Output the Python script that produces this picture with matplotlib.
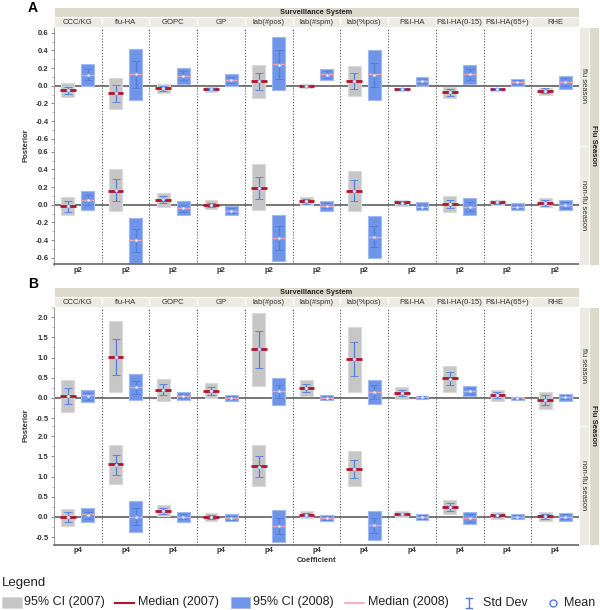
import matplotlib
matplotlib.use('Agg')
import matplotlib.pyplot as plt
from matplotlib.patches import Rectangle
from matplotlib.ticker import MultipleLocator, AutoMinorLocator

plt.rcParams['font.family'] = ['Liberation Sans', 'DejaVu Sans']

# ---------------- data ----------------
systems = ['CCC/KG', 'flu-HA', 'GOPC', 'GP', 'lab(#pos)', 'lab(#spm)', 'lab(%pos)',
           'P&I-HA', 'P&I-HA(0-15)', 'P&I-HA(65+)', 'RHE']
seasons = ['flu season', 'non-flu season']

# Panel A (p2), flu season
A_flu_lo07 = [-0.13, -0.26, -0.08, -0.065, -0.14, -0.03, -0.12, -0.06, -0.14, -0.06, -0.10]
A_flu_hi07 = [0.03, 0.09, 0.02, -0.01, 0.24, 0.02, 0.22, -0.02, -0.01, -0.02, -0.02]
A_flu_med07 = [-0.05, -0.08, -0.03, -0.035, 0.05, 0.0, 0.05, -0.04, -0.07, -0.04, -0.055]
A_flu_mean07 = [-0.05, -0.085, -0.03, -0.035, 0.05, 0.0, 0.05, -0.04, -0.072, -0.04, -0.055]
A_flu_sd07 = [0.04, 0.095, 0.025, 0.015, 0.10, 0.012, 0.09, 0.012, 0.038, 0.012, 0.025]
A_flu_lo08 = [0.0, -0.16, 0.02, 0.0, -0.05, 0.06, -0.16, 0.0, 0.02, 0.0, -0.035]
A_flu_hi08 = [0.25, 0.42, 0.20, 0.13, 0.55, 0.19, 0.40, 0.10, 0.24, 0.08, 0.11]
A_flu_med08 = [0.12, 0.13, 0.11, 0.07, 0.25, 0.13, 0.13, 0.05, 0.13, 0.04, 0.04]
A_flu_mean08 = [0.125, 0.13, 0.115, 0.065, 0.24, 0.127, 0.123, 0.053, 0.13, 0.04, 0.043]
A_flu_sd08 = [0.065, 0.15, 0.055, 0.035, 0.16, 0.038, 0.137, 0.018, 0.06, 0.02, 0.043]

# Panel A (p2), non-flu season
A_non_lo07 = [-0.12, -0.075, -0.02, -0.05, -0.06, 0.0, -0.07, -0.015, -0.08, 0.0, -0.03]
A_non_hi07 = [0.086, 0.41, 0.13, 0.05, 0.46, 0.086, 0.38, 0.056, 0.10, 0.056, 0.08]
A_non_med07 = [-0.01, 0.16, 0.056, 0.0, 0.195, 0.04, 0.16, 0.03, 0.008, 0.034, 0.02]
A_non_mean07 = [-0.018, 0.163, 0.06, 0.0, 0.19, 0.038, 0.158, 0.022, 0.008, 0.03, 0.018]
A_non_sd07 = [0.058, 0.123, 0.04, 0.025, 0.128, 0.028, 0.118, 0.017, 0.048, 0.017, 0.033]
A_non_lo08 = [-0.056, -0.66, -0.12, -0.12, -0.64, -0.065, -0.60, -0.064, -0.11, -0.064, -0.064]
A_non_hi08 = [0.16, -0.15, 0.04, -0.01, -0.11, 0.04, -0.13, 0.026, 0.075, 0.02, 0.056]
A_non_med08 = [0.05, -0.40, -0.04, -0.065, -0.375, -0.015, -0.36, -0.02, -0.02, -0.022, 0.0]
A_non_mean08 = [0.053, -0.40, -0.04, -0.065, -0.378, -0.013, -0.36, -0.02, -0.02, -0.02, 0.0]
A_non_sd08 = [0.053, 0.13, 0.04, 0.025, 0.133, 0.028, 0.12, 0.022, 0.05, 0.019, 0.035]

# Panel B (p4), flu season
B_flu_lo07 = [-0.35, 0.16, -0.065, 0.0, 0.30, 0.05, 0.16, -0.02, 0.14, -0.065, -0.26]
B_flu_hi07 = [0.44, 1.89, 0.48, 0.36, 2.10, 0.45, 1.76, 0.26, 0.80, 0.20, 0.16]
B_flu_med07 = [0.06, 1.02, 0.20, 0.18, 1.21, 0.24, 0.97, 0.12, 0.49, 0.075, -0.05]
B_flu_mean07 = [0.05, 1.02, 0.207, 0.175, 1.20, 0.245, 0.965, 0.115, 0.475, 0.07, -0.05]
B_flu_sd07 = [0.20, 0.44, 0.143, 0.105, 0.46, 0.105, 0.415, 0.075, 0.165, 0.07, 0.115]
B_flu_lo08 = [-0.09, -0.05, -0.05, -0.065, -0.165, -0.06, -0.14, -0.03, 0.05, -0.06, -0.065]
B_flu_hi08 = [0.19, 0.59, 0.15, 0.08, 0.50, 0.08, 0.44, 0.06, 0.30, 0.03, 0.10]
B_flu_med08 = [0.065, 0.27, 0.05, 0.01, 0.17, 0.01, 0.16, 0.02, 0.17, -0.01, 0.016]
B_flu_mean08 = [0.04, 0.265, 0.05, 0.01, 0.165, 0.01, 0.145, 0.02, 0.17, -0.01, 0.018]
B_flu_sd08 = [0.08, 0.165, 0.05, 0.037, 0.165, 0.04, 0.165, 0.025, 0.07, 0.02, 0.048]

# Panel B (p4), non-flu season
B_non_lo07 = [-0.22, 0.81, 0.016, -0.10, 0.76, -0.03, 0.76, 0.008, 0.065, -0.04, -0.10]
B_non_hi07 = [0.20, 1.77, 0.30, 0.10, 1.77, 0.14, 1.63, 0.14, 0.43, 0.12, 0.12]
B_non_med07 = [0.0, 1.30, 0.15, 0.0, 1.26, 0.06, 1.18, 0.075, 0.25, 0.04, 0.016]
B_non_mean07 = [0.0, 1.29, 0.143, 0.0, 1.245, 0.06, 1.19, 0.075, 0.245, 0.04, 0.016]
B_non_sd07 = [0.12, 0.25, 0.078, 0.05, 0.255, 0.045, 0.22, 0.033, 0.105, 0.04, 0.055]
B_non_lo08 = [-0.12, -0.375, -0.12, -0.10, -0.63, -0.11, -0.57, -0.075, -0.165, -0.06, -0.10]
B_non_hi08 = [0.22, 0.40, 0.13, 0.075, 0.175, 0.05, 0.16, 0.065, 0.13, 0.065, 0.11]
B_non_med08 = [0.065, 0.0, 0.008, -0.016, -0.225, -0.025, -0.20, 0.0, -0.016, 0.008, 0.008]
B_non_mean08 = [0.04, 0.01, 0.008, -0.016, -0.23, -0.025, -0.21, 0.0, -0.02, 0.008, 0.008]
B_non_sd08 = [0.09, 0.21, 0.068, 0.05, 0.20, 0.05, 0.19, 0.042, 0.098, 0.035, 0.06]

A_ticks = [-0.6, -0.4, -0.2, 0.0, 0.2, 0.4, 0.6]
B_ticks = [-0.5, 0.0, 0.5, 1.0, 1.5, 2.0]

# ---------------- style ----------------
W, H = 600, 610
GRAY = '#c6c6c6'; GRAY_E = '#dadada'
BLUE = '#6f95e8'; BLUE_E = '#9fb9f2'
RED = '#b0142c'; PINK = '#f4a3ad'
SD = '#4f7de0'
STRIP_D = '#dcdacb'; STRIP_L = '#ecebe3'
TXT = '#333333'

fig = plt.figure(figsize=(6, 6.1), dpi=100)


def ax_px(x0, y0, x1, y1, **kw):
    return fig.add_axes([x0 / W, 1 - y1 / H, (x1 - x0) / W, (y1 - y0) / H], **kw)


X0, X1 = 54, 579
n = len(systems)


def draw_row(ax, data07, data08, ylim, ticks, bottom, coef):
    lo7, hi7, md7, mn7, sd7 = data07
    lo8, hi8, md8, mn8, sd8 = data08
    w = 0.27
    xs7 = [i + 0.29 for i in range(n)]
    xs8 = [i + 0.71 for i in range(n)]
    ax.set_xlim(0, n)
    ax.set_ylim(*ylim)
    ax.axhline(0, color='#5f5f5f', lw=1.2, zorder=1)
    for i in range(1, n):
        ax.axvline(i, color='#555555', lw=0.8, ls=(0, (1, 1.6)), zorder=1)
    ax.bar(xs7, [h - l for l, h in zip(lo7, hi7)], bottom=lo7, width=w,
           color=GRAY, edgecolor=GRAY_E, lw=0.8, zorder=2)
    ax.bar(xs8, [h - l for l, h in zip(lo8, hi8)], bottom=lo8, width=w,
           color=BLUE, edgecolor=BLUE_E, lw=0.8, zorder=2)
    ax.hlines(md7, [x - w / 2 - 0.03 for x in xs7], [x + w / 2 + 0.03 for x in xs7],
              color=RED, lw=2.0, zorder=3)
    ax.hlines(md8, [x - w / 2 for x in xs8], [x + w / 2 for x in xs8],
              color=PINK, lw=1.0, zorder=3)
    for xs, mn, sd in ((xs7, mn7, sd7), (xs8, mn8, sd8)):
        ax.errorbar(xs, mn, yerr=sd, fmt='o', color=SD, ecolor=SD, elinewidth=0.9,
                    capsize=3.2, capthick=0.9, ms=2.2, mfc='white', mec='#8fb0f0',
                    mew=0.6, zorder=4)
    ax.set_yticks(ticks)
    ax.set_yticklabels([f'{t:.1f}' for t in ticks])
    ax.yaxis.set_minor_locator(AutoMinorLocator(2))
    ax.tick_params(axis='y', which='major', labelsize=5.5, length=2.5, width=0.6,
                   colors='#777777', labelcolor=TXT, pad=1.5)
    ax.tick_params(axis='y', which='minor', length=1.5, width=0.5, colors='#999999')
    for lab in ax.get_yticklabels():
        lab.set_fontweight('bold')
    ax.spines['top'].set_visible(False)
    ax.spines['right'].set_visible(False)
    ax.spines['left'].set_color('#9a9a9a')
    ax.spines['left'].set_linewidth(0.7)
    if bottom:
        ax.spines['bottom'].set_color('#666666')
        ax.spines['bottom'].set_linewidth(1.2)
        ax.set_xticks([i + 0.5 for i in range(n)])
        ax.set_xticklabels([coef] * n, fontsize=5.5, fontweight='bold', color=TXT)
        ax.tick_params(axis='x', length=0, pad=1.5)
    else:
        ax.spines['bottom'].set_color('#d8d8d8')
        ax.spines['bottom'].set_linewidth(0.7)
        ax.set_xticks([])


panels = [
    dict(top=7, label='A', coef='p2', ticks=A_ticks, ylim=(-0.675, 0.67),
         rows=[((A_flu_lo07, A_flu_hi07, A_flu_med07, A_flu_mean07, A_flu_sd07),
                (A_flu_lo08, A_flu_hi08, A_flu_med08, A_flu_mean08, A_flu_sd08)),
               ((A_non_lo07, A_non_hi07, A_non_med07, A_non_mean07, A_non_sd07),
                (A_non_lo08, A_non_hi08, A_non_med08, A_non_mean08, A_non_sd08))]),
    dict(top=287, label='B', coef='p4', ticks=B_ticks, ylim=(-0.68, 2.26),
         rows=[((B_flu_lo07, B_flu_hi07, B_flu_med07, B_flu_mean07, B_flu_sd07),
                (B_flu_lo08, B_flu_hi08, B_flu_med08, B_flu_mean08, B_flu_sd08)),
               ((B_non_lo07, B_non_hi07, B_non_med07, B_non_mean07, B_non_sd07),
                (B_non_lo08, B_non_hi08, B_non_med08, B_non_mean08, B_non_sd08))]),
]

ov = ax_px(0, 0, W, H, zorder=10)
ov.set_xlim(0, W); ov.set_ylim(H, 0); ov.axis('off'); ov.patch.set_alpha(0)

colw = (X1 - X0) / n
for pi, p in enumerate(panels):
    t = p['top']
    band_top, band_bot = t, t + 9.5
    hdr_bot = band_bot + 10
    row_h = 119
    r1 = (hdr_bot, hdr_bot + row_h)
    r2 = (hdr_bot + row_h, hdr_bot + 2 * row_h)
    for ri, (rng, (d7, d8)) in enumerate(zip((r1, r2), p['rows'])):
        ax = ax_px(X0, rng[0], X1, rng[1])
        draw_row(ax, d7, d8, p['ylim'], p['ticks'], ri == 1, p['coef'])
        # season strip
        ov.add_patch(Rectangle((X1, rng[0]), 10, rng[1] - rng[0], fc=STRIP_L,
                               ec='white', lw=0.6))
        ov.text(X1 + 5, (rng[0] + rng[1]) / 2, seasons[ri], rotation=270,
                ha='center', va='center', fontsize=5.5, color=TXT)
    # outer strip
    ov.add_patch(Rectangle((X1 + 10, r1[0]), 10, r2[1] - r1[0], fc=STRIP_D,
                           ec='white', lw=0.6))
    ov.text(X1 + 15, r1[1], 'Flu Season', rotation=270, ha='center', va='center',
            fontsize=5.5, fontweight='bold', color='#222222')
    # headers
    ov.add_patch(Rectangle((X0, band_top), X1 - X0, band_bot - band_top, fc=STRIP_D,
                           ec='white', lw=0.6))
    ov.text((X0 + X1) / 2, (band_top + band_bot) / 2 + 0.5, 'Surveillance System',
            ha='center', va='center', fontsize=5.3, fontweight='bold', color='#222222')
    for i, s in enumerate(systems):
        ov.add_patch(Rectangle((X0 + i * colw, band_bot), colw, hdr_bot - band_bot,
                               fc=STRIP_L, ec='white', lw=0.8))
        ov.text(X0 + (i + 0.5) * colw, (band_bot + hdr_bot) / 2 + 0.5, s,
                ha='center', va='center', fontsize=5.5, color=TXT)
    ov.text(33, t + 1 if pi == 0 else t - 3, p['label'], ha='center', va='center',
            fontsize=10, fontweight='bold', color='black')
    ov.text(26, r1[1], 'Posterior', rotation=90, ha='center', va='center',
            fontsize=5.5, fontweight='bold', color=TXT)

ov.text((X0 + X1) / 2, 560, 'Coefficient', ha='center', va='center', fontsize=5.5,
        fontweight='bold', color=TXT)

# ---------------- legend ----------------
ly = 602.5
ov.text(2, 583, 'Legend', ha='left', va='center', fontsize=9.5, color='#222222')
ov.add_patch(Rectangle((2, ly - 5.5), 20, 11, fc=GRAY, ec=GRAY_E, lw=0.6))
ov.text(24, ly, '95% CI (2007)', ha='left', va='center', fontsize=9, color='#222222')
ov.plot([115, 134], [ly, ly], color=RED, lw=1.5)
ov.text(138, ly, 'Median (2007)', ha='left', va='center', fontsize=9, color='#222222')
ov.add_patch(Rectangle((231, ly - 5.5), 19, 11, fc=BLUE, ec=BLUE_E, lw=0.6))
ov.text(253, ly, '95% CI (2008)', ha='left', va='center', fontsize=9, color='#222222')
ov.plot([345, 364], [ly, ly], color=PINK, lw=1.2)
ov.text(368, ly, 'Median (2008)', ha='left', va='center', fontsize=9, color='#222222')
ov.plot([469, 469], [ly - 5, ly + 5], color=SD, lw=1)
ov.plot([466, 472], [ly - 5, ly - 5], color=SD, lw=1)
ov.plot([466, 472], [ly + 5, ly + 5], color=SD, lw=1)
ov.text(483, ly, 'Std Dev', ha='left', va='center', fontsize=9, color='#222222')
ov.plot([553], [ly], 'o', ms=5, mfc='white', mec=SD, mew=1)
ov.text(564, ly, 'Mean', ha='left', va='center', fontsize=9, color='#222222')

fig.savefig('out.png', dpi=100)
